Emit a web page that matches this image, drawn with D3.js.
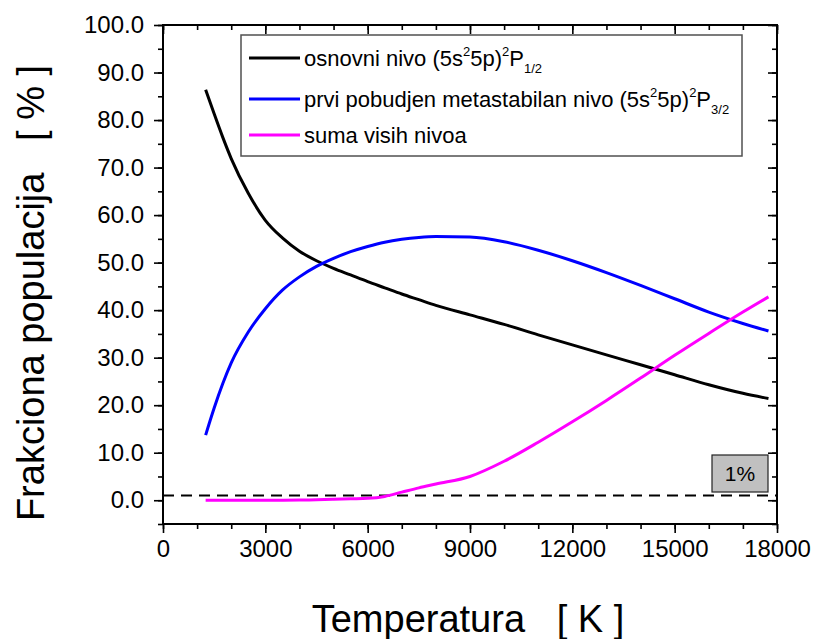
<!DOCTYPE html>
<html><head><meta charset="utf-8">
<script src="https://cdn.jsdelivr.net/npm/d3@7"></script>
<style>
html,body{margin:0;padding:0;background:#fff;}
svg{display:block;font-family:"Liberation Sans",Arial,sans-serif;}
</style></head>
<body><svg id="c" width="814" height="639"></svg>
<script>
const temperatures = [1250,1500,1750,2000,2500,3000,3500,4000,4500,5000,5500,6000,6500,7000,7500,8000,9000,10000,11000,12000,13000,14000,15000,16000,17000,17750];
const groundLevel = [86.4,81.3,76.4,71.9,64.6,58.9,55.2,52.4,50.4,48.8,47.4,46.0,44.7,43.4,42.2,41.0,39.0,37.0,34.8,32.7,30.6,28.5,26.4,24.3,22.5,21.4];
const metastableLevel = [13.7,19.4,24.5,28.9,35.4,40.3,44.2,47.0,49.2,50.9,52.3,53.4,54.3,54.9,55.3,55.5,55.4,54.4,52.6,50.4,47.9,45.2,42.4,39.6,37.2,35.6];
const higherLevels = [0,0,0,0,0,0,0.02,0.05,0.1,0.2,0.3,0.4,0.8,1.7,2.6,3.4,5.0,8.2,12.2,16.5,21.0,25.7,30.5,35.1,39.6,42.8];
const xMajorTicks = [0,3000,6000,9000,12000,15000,18000];
const xMinorTicks = d3.range(0,18001,1000);
const yMajorTicks = d3.range(0,101,10);
const yMinorTicks = d3.range(-5,101,5);
const thresholdValue = 1;
const seriesColors = ["#000000","#0000ff","#ff00ff"];

const svg = d3.select("#c");
const L=163,R=777,T=25,B=524;
const x = d3.scaleLinear().domain([0,18000]).range([L,R]);
const y = d3.scaleLinear().domain([-5,100]).range([B,T]);

function styleAxis(g){ g.select(".domain").remove(); g.selectAll("line").attr("stroke","#000").attr("stroke-width",1.6); g.selectAll("text").attr("font-family","Liberation Sans, Arial, sans-serif").attr("fill","#000"); }
svg.append("g").attr("transform",`translate(0,${B})`).call(d3.axisBottom(x).tickValues(xMinorTicks).tickSize(5).tickFormat("")).call(styleAxis);
svg.append("g").attr("transform",`translate(0,${B})`).call(d3.axisBottom(x).tickValues(xMajorTicks).tickSize(9).tickPadding(7).tickFormat(d3.format("d"))).call(styleAxis).selectAll("text").attr("font-size",24);
svg.append("g").attr("transform",`translate(0,${T})`).call(d3.axisTop(x).tickValues(xMinorTicks).tickSize(-5).tickFormat("")).call(styleAxis);
svg.append("g").attr("transform",`translate(0,${T})`).call(d3.axisTop(x).tickValues(xMajorTicks).tickSize(-9).tickFormat("")).call(styleAxis);
svg.append("g").attr("transform",`translate(${L},0)`).call(d3.axisLeft(y).tickValues(yMinorTicks).tickSize(5).tickFormat("")).call(styleAxis);
svg.append("g").attr("transform",`translate(${L},0)`).call(d3.axisLeft(y).tickValues(yMajorTicks).tickSize(9).tickPadding(10).tickFormat(d3.format(".1f"))).call(styleAxis).selectAll("text").attr("font-size",24);
svg.append("g").attr("transform",`translate(${R},0)`).call(d3.axisRight(y).tickValues(yMinorTicks).tickSize(-5).tickFormat("")).call(styleAxis);
svg.append("g").attr("transform",`translate(${R},0)`).call(d3.axisRight(y).tickValues(yMajorTicks).tickSize(-9).tickFormat("")).call(styleAxis);

svg.append("rect").attr("x",L).attr("y",T).attr("width",R-L).attr("height",B-T).attr("fill","none").attr("stroke","#000").attr("stroke-width",2);

svg.append("line").attr("x1",x(0)).attr("x2",x(18000)).attr("y1",y(thresholdValue)).attr("y2",y(thresholdValue))
  .attr("stroke","#000").attr("stroke-width",2).attr("stroke-dasharray","11,7");

const line = d3.line().x((d,i)=>x(temperatures[i])).y(d=>y(d)).curve(d3.curveMonotoneX);
[groundLevel,metastableLevel,higherLevels].forEach((s,i)=>{
  svg.append("path").attr("d",line(s)).attr("fill","none").attr("stroke",seriesColors[i]).attr("stroke-width",3).attr("stroke-linejoin","round");
});

svg.append("rect").attr("x",712).attr("y",455).attr("width",56).attr("height",37).attr("fill","#c0c0c0").attr("stroke","#222").attr("stroke-width",1.2);
svg.append("text").attr("x",740).attr("y",481).attr("text-anchor","middle").attr("font-size",21).text("1%");

svg.append("rect").attr("x",241).attr("y",35).attr("width",501).attr("height",121).attr("fill","#fff").attr("stroke","#505050").attr("stroke-width",1.5);
const legY=[58,99,135];
legY.forEach((ly,i)=>{
  svg.append("line").attr("x1",249).attr("x2",300).attr("y1",ly).attr("y2",ly).attr("stroke",seriesColors[i]).attr("stroke-width",3);
});
function levelLabel(ly, sub){
  const t = svg.append("text").attr("x",304).attr("y",ly+8).attr("font-size",22);
  t.append("tspan").text(sub.prefix+"(5s");
  t.append("tspan").attr("dy",-10).attr("font-size",13).text("2");
  t.append("tspan").attr("dy",10).text("5p)");
  t.append("tspan").attr("dy",-10).attr("font-size",13).text("2");
  t.append("tspan").attr("dy",10).text("P");
  t.append("tspan").attr("dy",7).attr("font-size",13).text(sub.j);
}
levelLabel(legY[0],{prefix:"osnovni nivo ",j:"1/2"});
levelLabel(legY[1],{prefix:"prvi pobudjen metastabilan nivo ",j:"3/2"});
svg.append("text").attr("x",304).attr("y",legY[2]+8).attr("font-size",22).text("suma visih nivoa");

svg.append("text").attr("x",468).attr("y",632).attr("text-anchor","middle").attr("font-size",38).attr("xml:space","preserve").text("Temperatura   [ K ]");
svg.append("text").attr("transform","translate(44,293) rotate(-90)").attr("text-anchor","middle").attr("font-size",38).attr("xml:space","preserve").text("Frakciona populacija   [ % ]");
</script></body></html>
